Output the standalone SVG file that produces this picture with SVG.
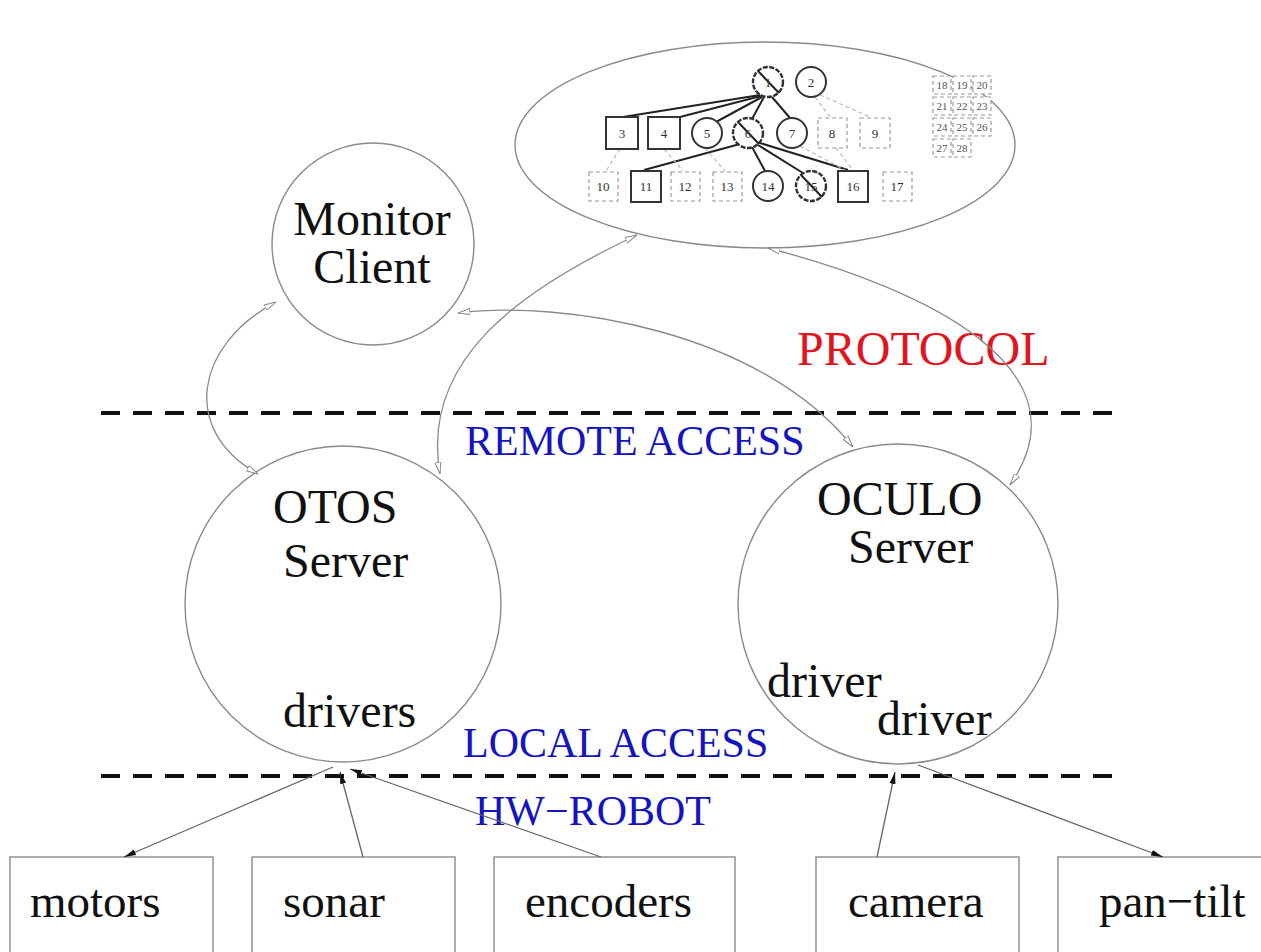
<svg xmlns="http://www.w3.org/2000/svg" width="1261" height="952" viewBox="0 0 1261 952">
<style>
.t{font-family:"Liberation Serif","Times New Roman",serif;fill:#111}
.big{font-size:48px}
.box{font-size:47px}
.blue{font-family:"Liberation Serif","Times New Roman",serif;font-size:42px;fill:#1414c0}
.red{font-family:"Liberation Serif","Times New Roman",serif;font-size:48px;fill:#e2141e}
.shape{fill:#fff;stroke:#8a8a8a;stroke-width:1.4}
.conn{fill:none;stroke:#8a8a8a;stroke-width:1.3}
.hw{fill:none;stroke:#666;stroke-width:1.3}
.sep{stroke:#111;stroke-width:4;stroke-dasharray:19 13}
.mn{font-family:"Liberation Serif","Times New Roman",serif;font-size:13px;fill:#333;text-anchor:middle}
.ms{font-family:"Liberation Serif","Times New Roman",serif;font-size:11px;fill:#555;text-anchor:middle}
.solid{fill:#fff;stroke:#333;stroke-width:2}
.heavy{fill:#fff;stroke:#333;stroke-width:2.4;stroke-dasharray:5 1.5}
.dash{fill:#fff;stroke:#999;stroke-width:1.2;stroke-dasharray:4 3}
.edge{stroke:#222;stroke-width:2;fill:none}
.faint{stroke:#bbb;stroke-width:1.2;stroke-dasharray:4 3;fill:none}
</style>
<defs>
<marker id="oa" viewBox="0 0 12 8" refX="12" refY="4" markerWidth="12" markerHeight="8" markerUnits="userSpaceOnUse" orient="auto-start-reverse">
<path d="M0,1 L12,4 L0,7 Z" fill="#fff" stroke="#888" stroke-width="1"/>
</marker>
<marker id="fa" viewBox="0 0 12 8" refX="12" refY="4" markerWidth="12" markerHeight="8" markerUnits="userSpaceOnUse" orient="auto">
<path d="M0,1 L12,4 L0,7 Z" fill="#111"/>
</marker>
</defs>
<rect width="1261" height="952" fill="#fff"/>

<g id="separators">
<line class="sep" x1="101" y1="413" x2="1118" y2="413"/>
<line class="sep" x1="101" y1="776" x2="1118" y2="776"/>
</g>

<g id="labels">
<text class="red" x="797" y="365">PROTOCOL</text>
<text class="blue" x="465" y="455">REMOTE ACCESS</text>
<text class="blue" x="463" y="757">LOCAL ACCESS</text>
<text class="blue" x="475" y="825">HW−ROBOT</text>
</g>

<g id="state-graph">
<ellipse class="shape" cx="765" cy="145" rx="250" ry="103"/>
<g id="mini-edges">
<line class="edge" x1="760" y1="95" x2="623" y2="117"/>
<line class="edge" x1="761" y1="96" x2="680" y2="117"/>
<line class="edge" x1="762" y1="97" x2="716" y2="122"/>
<line class="edge" x1="764" y1="97" x2="752" y2="119"/>
<line class="edge" x1="772" y1="97" x2="790" y2="118"/>
<line class="edge" x1="740" y1="144" x2="644" y2="170"/>
<line class="edge" x1="752" y1="147" x2="765" y2="171"/>
<line class="edge" x1="758" y1="145" x2="803" y2="173"/>
<line class="edge" x1="760" y1="143" x2="848" y2="170"/>
<line class="faint" x1="815" y1="97" x2="830" y2="117"/>
<line class="faint" x1="820" y1="95" x2="870" y2="117"/>
<line class="faint" x1="800" y1="146" x2="845" y2="170"/>
<line class="faint" x1="836" y1="148" x2="853" y2="170"/>
<line class="faint" x1="620" y1="149" x2="606" y2="171"/>
<line class="faint" x1="664" y1="149" x2="683" y2="171"/>
<line class="faint" x1="705" y1="148" x2="725" y2="171"/>
</g>
<g id="n1"><circle class="heavy" cx="768" cy="82" r="15"/><line class="edge" x1="758" y1="71" x2="779" y2="93"/><text class="mn" x="768" y="87">1</text></g>
<g id="n2"><circle class="solid" cx="811" cy="82" r="15"/><text class="mn" x="811" y="87">2</text></g>
<g id="n3"><rect class="solid" x="606" y="117" width="32" height="32"/><text class="mn" x="622" y="138">3</text></g>
<g id="n4"><rect class="solid" x="648" y="117" width="32" height="32"/><text class="mn" x="664" y="138">4</text></g>
<g id="n5"><circle class="solid" cx="707" cy="133" r="15"/><text class="mn" x="707" y="138">5</text></g>
<g id="n6"><circle class="heavy" cx="748" cy="133" r="15"/><line class="edge" x1="738" y1="122" x2="759" y2="144"/><text class="mn" x="748" y="138">6</text></g>
<g id="n7"><circle class="solid" cx="792" cy="133" r="15"/><text class="mn" x="792" y="138">7</text></g>
<g id="n8"><rect class="dash" x="818" y="118" width="29" height="30"/><text class="mn" x="832" y="138">8</text></g>
<g id="n9"><rect class="dash" x="860" y="118" width="30" height="30"/><text class="mn" x="875" y="138">9</text></g>
<g id="n10"><rect class="dash" x="589" y="172" width="29" height="29"/><text class="mn" x="603" y="191">10</text></g>
<g id="n11"><rect class="solid" x="631" y="171" width="30" height="31"/><text class="mn" x="646" y="191">11</text></g>
<g id="n12"><rect class="dash" x="671" y="172" width="29" height="29"/><text class="mn" x="685" y="191">12</text></g>
<g id="n13"><rect class="dash" x="713" y="172" width="29" height="29"/><text class="mn" x="727" y="191">13</text></g>
<g id="n14"><circle class="solid" cx="768" cy="186" r="15"/><text class="mn" x="768" y="191">14</text></g>
<g id="n15"><circle class="heavy" cx="811" cy="186" r="15"/><line class="edge" x1="801" y1="175" x2="822" y2="197"/><text class="mn" x="811" y="191">15</text></g>
<g id="n16"><rect class="solid" x="838" y="171" width="30" height="31"/><text class="mn" x="853" y="191">16</text></g>
<g id="n17"><rect class="dash" x="883" y="172" width="29" height="29"/><text class="mn" x="897" y="191">17</text></g>
<g id="cluster">
<rect class="dash" x="933" y="76" width="18" height="18"/><text class="ms" x="942" y="89">18</text>
<rect class="dash" x="953" y="76" width="18" height="18"/><text class="ms" x="962" y="89">19</text>
<rect class="dash" x="973" y="76" width="18" height="18"/><text class="ms" x="982" y="89">20</text>
<rect class="dash" x="933" y="97" width="18" height="18"/><text class="ms" x="942" y="110">21</text>
<rect class="dash" x="953" y="97" width="18" height="18"/><text class="ms" x="962" y="110">22</text>
<rect class="dash" x="973" y="97" width="18" height="18"/><text class="ms" x="982" y="110">23</text>
<rect class="dash" x="933" y="118" width="18" height="18"/><text class="ms" x="942" y="131">24</text>
<rect class="dash" x="953" y="118" width="18" height="18"/><text class="ms" x="962" y="131">25</text>
<rect class="dash" x="973" y="118" width="18" height="18"/><text class="ms" x="982" y="131">26</text>
<rect class="dash" x="933" y="139" width="18" height="18"/><text class="ms" x="942" y="152">27</text>
<rect class="dash" x="953" y="139" width="18" height="18"/><text class="ms" x="962" y="152">28</text>
</g>
</g>

<g id="monitor-client">
<circle class="shape" cx="373" cy="244" r="101"/>
<text class="t big" x="372" y="235" text-anchor="middle">Monitor</text>
<text class="t big" x="372" y="283" text-anchor="middle">Client</text>
</g>

<g id="otos-server">
<circle class="shape" cx="343" cy="604" r="158"/>
<text class="t big" x="273" y="523">OTOS</text>
<text class="t big" x="283" y="577">Server</text>
<text class="t big" x="283" y="727">drivers</text>
</g>

<g id="oculo-server">
<circle class="shape" cx="898" cy="604" r="160"/>
<text class="t big" x="817" y="515">OCULO</text>
<text class="t big" x="848" y="563">Server</text>
<text class="t big" x="767" y="697">driver</text>
<text class="t big" x="877" y="735">driver</text>
</g>

<g id="hardware">
<g id="motors"><rect class="shape" x="10" y="857" width="203" height="120"/><text class="t box" x="30" y="917">motors</text></g>
<g id="sonar"><rect class="shape" x="252" y="857" width="203" height="120"/><text class="t box" x="283" y="917">sonar</text></g>
<g id="encoders"><rect class="shape" x="494" y="857" width="241" height="120"/><text class="t box" x="525" y="917">encoders</text></g>
<g id="camera"><rect class="shape" x="816" y="857" width="203" height="120"/><text class="t box" x="848" y="917">camera</text></g>
<g id="pan-tilt"><rect class="shape" x="1058" y="857" width="215" height="120"/><text class="t box" x="1099" y="917">pan−tilt</text></g>
</g>

<g id="connectors">
<path class="conn" d="M276,302 C195,345 180,430 258,474" marker-start="url(#oa)" marker-end="url(#oa)"/>
<path class="conn" d="M637,235 C520,290 420,360 440,474" marker-start="url(#oa)" marker-end="url(#oa)"/>
<path class="conn" d="M458,313 C560,300 760,330 853,447" marker-start="url(#oa)" marker-end="url(#oa)"/>
<path class="conn" d="M768,248 C930,290 1090,370 1010,485" marker-start="url(#oa)" marker-end="url(#oa)"/>
<line class="hw" x1="333" y1="767" x2="124" y2="857" marker-end="url(#fa)"/>
<line class="hw" x1="363" y1="857" x2="340" y2="772" marker-end="url(#fa)"/>
<line class="hw" x1="601" y1="857" x2="350" y2="769" marker-end="url(#fa)"/>
<line class="hw" x1="877" y1="857" x2="895" y2="772" marker-end="url(#fa)"/>
<line class="hw" x1="918" y1="765" x2="1163" y2="857" marker-end="url(#fa)"/>
</g>
</svg>
